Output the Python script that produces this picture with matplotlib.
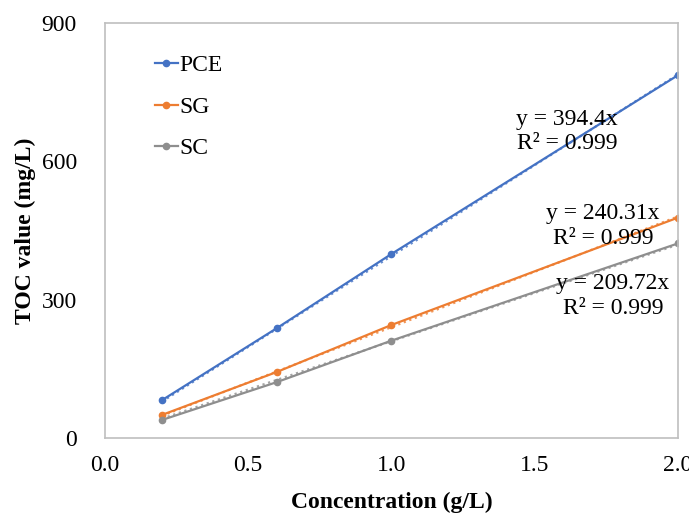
import numpy as np
import matplotlib.pyplot as plt

plt.rcParams['font.family'] = ['Liberation Serif', 'DejaVu Serif']

# Concentration (g/L)
conc = [0.2, 0.6, 1.0, 2.0]
# TOC values (mg/L)
pce = [82, 238, 399, 787]
sg = [50, 143, 245, 478]
sc = [39, 121, 211, 422]

slopes = [394.4, 240.31, 209.72]
r2 = [0.999, 0.999, 0.999]
names = ['PCE', 'SG', 'SC']
colors = ['#4472C4', '#ED7D31', '#8E8E8E']

fig = plt.figure(figsize=(6.89, 5.14), dpi=100)
ax = fig.add_axes([0.152, 0.148, 0.832, 0.807])

for y, k, name, c in zip([pce, sg, sc], slopes, names, colors):
    ax.plot(conc, y, marker='o', markersize=4.5, color=c, lw=1.6, label=name)
    # linear trendline through origin
    xs = np.array([conc[0], conc[-1]])
    ax.plot(xs, k * xs, ls=':', color=c, lw=1.6, alpha=0.8)

# trendline equations
ann_pos = [(1.613, 664), (1.738, 460), (1.773, 308)]
for (x, y), k, r in zip(ann_pos, slopes, r2):
    ax.text(x, y, 'y = %gx\nR² = %.3f' % (k, r), ha='center', va='center',
            fontsize=17, linespacing=1.2)

ax.set_xlim(0, 2.0)
ax.set_ylim(0, 900)
ax.set_xticks([0.0, 0.5, 1.0, 1.5, 2.0])
ax.set_xticklabels(['0.0', '0.5', '1.0', '1.5', '2.0'])
ax.set_yticks([0, 300, 600, 900])
ax.tick_params(axis='y', length=0, labelsize=17, pad=20)
ax.tick_params(axis='x', length=0, labelsize=17, pad=12)
for s in ax.spines.values():
    s.set_color('#BFBFBF')
    s.set_linewidth(1.2)

ax.set_xlabel('Concentration (g/L)', fontsize=17, fontweight='bold', labelpad=12)
ax.set_ylabel('TOC value (mg/L)', fontsize=17, fontweight='bold', labelpad=4)

handles, labels = ax.get_legend_handles_labels()
ax.legend(handles, labels, loc='upper left', bbox_to_anchor=(0.05, 0.975),
          frameon=False, fontsize=17, handlelength=1.0, handletextpad=0.05,
          labelspacing=0.85)

fig.savefig('out.png', dpi=100)
